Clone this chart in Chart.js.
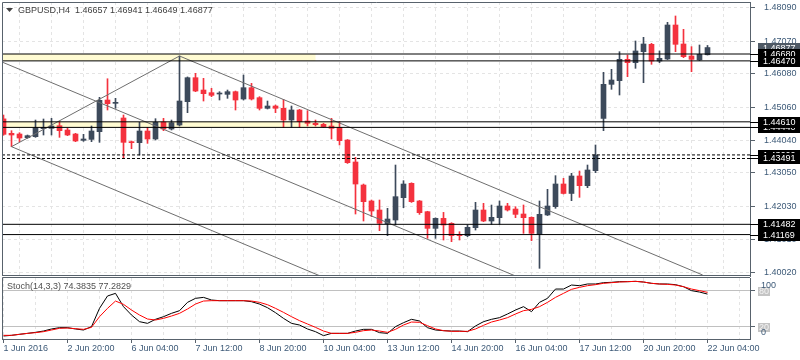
<!DOCTYPE html>
<html><head><meta charset="utf-8">
<script src="https://cdn.jsdelivr.net/npm/chart.js@4"></script>
<style>
html,body{margin:0;padding:0;background:#fff;}
#wrap{position:relative;width:800px;height:360px;overflow:hidden;}
#main{position:absolute;left:0;top:0;}
#stoch{position:absolute;left:0;top:277px;}
</style></head><body>
<div id="wrap"><canvas id="main" width="800" height="277"></canvas><canvas id="stoch" width="800" height="83"></canvas></div>
<script>
// ---------- DATA ----------
const candleOpen = [1.44700,1.44259,1.44238,1.44126,1.44157,1.44401,1.44411,1.44492,1.44360,1.44238,
1.44045,1.44075,1.44309,1.45276,1.45174,1.44727,1.44004,1.43974,1.44330,1.44086,
1.44604,1.44391,1.44513,1.45225,1.45957,1.45581,1.45500,1.45459,1.45449,1.45530,
1.45306,1.45652,1.45347,1.45022,1.45093,1.45022,1.44665,1.44971,1.44635,1.44564,
1.44533,1.44482,1.44442,1.44055,1.43384,1.42682,1.42194,1.41919,1.41502,1.41614,
1.42295,1.42733,1.42194,1.41868,1.41359,1.41664,1.41512,1.41176,1.41135,1.41379,
1.41919,1.41583,1.41685,1.42041,1.41949,1.41797,1.41695,1.41176,1.41767,1.42021,
1.42713,1.42424,1.42957,1.42662,1.43119,1.44714,1.45754,1.45866,1.46517,1.46415,
1.46751,1.46975,1.46466,1.46527,1.47565,1.46985,1.46619,1.46497,1.46657];
const candleHigh = [1.44818,1.44340,1.44279,1.44208,1.44665,1.44696,1.44716,1.44615,1.44411,1.44259,
1.44228,1.44482,1.45357,1.45925,1.45327,1.44818,1.44025,1.44594,1.44442,1.44706,
1.44716,1.44665,1.46619,1.45980,1.46090,1.45937,1.45632,1.45530,1.45581,1.45550,
1.46039,1.45784,1.45378,1.45245,1.45123,1.45296,1.45093,1.44990,1.44950,1.44665,
1.44564,1.44716,1.44615,1.44070,1.43526,1.42712,1.42224,1.42224,1.41970,1.43292,
1.42814,1.42750,1.42210,1.41880,1.41680,1.41847,1.41532,1.41257,1.41461,1.42153,
1.42122,1.42071,1.42194,1.42122,1.42020,1.42072,1.41710,1.42194,1.42550,1.42967,
1.42886,1.43038,1.43109,1.43292,1.43903,1.46121,1.46212,1.46751,1.46649,1.47077,
1.47189,1.47006,1.46772,1.47646,1.47840,1.47433,1.46904,1.46955,1.46941];
const candleLow = [1.44200,1.43852,1.44004,1.44106,1.44137,1.44208,1.44208,1.44137,1.44187,1.44004,
1.44014,1.44004,1.43984,1.44971,1.45022,1.43496,1.43791,1.43597,1.43953,1.44055,
1.44340,1.44360,1.44482,1.44889,1.45530,1.45245,1.45378,1.45276,1.45327,1.44971,
1.45276,1.45276,1.44971,1.45002,1.44889,1.44442,1.44442,1.44442,1.44482,1.44482,
1.44442,1.44086,1.43903,1.43340,1.41797,1.41583,1.41715,1.41288,1.41135,1.41461,
1.41990,1.42150,1.41786,1.41054,1.41054,1.41003,1.40952,1.41003,1.41105,1.41308,
1.41563,1.41481,1.41481,1.41888,1.41685,1.41207,1.40983,1.40139,1.41750,1.41970,
1.42407,1.42204,1.42306,1.42601,1.43058,1.44340,1.45602,1.45429,1.45988,1.46243,
1.45805,1.46365,1.46415,1.46510,1.46751,1.46568,1.46141,1.46476,1.46649];
const candleClose = [1.44228,1.44208,1.44116,1.44187,1.44432,1.44442,1.44482,1.44340,1.44208,1.44025,
1.44086,1.44330,1.45266,1.45164,1.45194,1.43984,1.43974,1.44330,1.44086,1.44594,
1.44391,1.44584,1.45245,1.45957,1.45550,1.45469,1.45418,1.45479,1.45530,1.45276,
1.45652,1.45306,1.45022,1.45093,1.45022,1.44665,1.44971,1.44615,1.44564,1.44523,
1.44462,1.44411,1.44035,1.43363,1.42712,1.42173,1.41888,1.41512,1.41644,1.42326,
1.42712,1.42173,1.41837,1.41359,1.41664,1.41461,1.41135,1.41135,1.41390,1.41919,
1.41583,1.41695,1.42041,1.41919,1.41786,1.41685,1.41207,1.41787,1.42041,1.42713,
1.42424,1.42957,1.42662,1.43140,1.43598,1.45754,1.45886,1.46517,1.46415,1.46772,
1.46985,1.46466,1.46548,1.47565,1.46975,1.46599,1.46517,1.46670,1.46877];
const stochK = [4.5,5.6,7.3,8.9,10.6,12.8,16.2,18.4,18.4,16.2,
14.5,20.1,50.6,71.2,75.6,53.4,39.5,28.4,25.6,32.3,
36.7,42.3,46.7,60.6,67.3,68.9,64.5,63.4,63.4,63.4,
63.4,61.7,57.8,51.7,43.4,33.9,25.6,22.8,16.2,11.7,
5.1,8.9,8.9,8.9,12.8,15.6,15.6,10.1,8.9,20.1,
26.7,32.3,29.5,18.4,14.5,13.4,12.8,12.8,11.7,21.2,
28.4,32.3,35.1,41.2,47.8,53.4,45.1,60.6,67.3,82.8,
82.8,89.5,88.4,91.2,91.2,93.4,94.0,95.1,95.1,95.6,
94.5,92.3,91.2,91.2,90.1,86.7,80.1,77.8,74.38];
const stochD = [5.6,5.6,7.3,8.9,10.1,11.7,14.5,17.3,17.8,16.7,
15.6,18.9,36.7,50.6,62.8,57.3,47.8,39.5,32.8,31.2,
33.9,37.8,42.3,49.5,57.8,62.8,63.4,63.4,63.4,63.4,
63.4,62.8,60.6,56.7,50.6,43.9,36.7,30.1,24.5,18.9,
12.8,8.9,8.9,8.9,10.6,13.4,14.5,12.8,10.6,15.6,
22.8,27.8,27.3,21.7,16.2,13.4,12.3,12.3,12.3,16.2,
22.3,27.8,31.2,35.1,41.2,46.7,48.9,53.4,60.6,68.9,
75.6,82.3,85.6,88.4,90.1,92.3,93.4,94.5,95.1,95.6,
94.5,92.3,91.2,90.6,89.5,86.7,82.8,80.1,77.28];
const timeLabels = ["1 Jun 2016","2 Jun 20:00","6 Jun 04:00","7 Jun 12:00","8 Jun 20:00","10 Jun 04:00",
"13 Jun 12:00","14 Jun 20:00","16 Jun 04:00","17 Jun 12:00","20 Jun 20:00","22 Jun 04:00"];
const timeLabelBars = [0,8,16,24,32,40,48,56,64,72,80,88];
const priceTicks = [1.48090,1.47070,1.46080,1.45060,1.44040,1.43050,1.42030,1.41010,1.40020];
const solidLevels = [1.46680,1.46470,1.44610,1.44440,1.41482,1.41169];
const dashedLevels = [1.43600,1.43491];
const zoneTop = [1.46680,1.44610];
const zoneBottom = [1.46470,1.44440];
const zoneEndBar = [39,41.9];
const trendLines = [
  [[-0.19,1.46436],[64,1.39905]],
  [[1,1.43852],[39.6,1.39905]],
  [[1,1.43852],[22,1.46619]],
  [[22,1.46619],[87.4,1.39935]]
];
const lastPrice = 1.46877;
const labelOrder = [1.46680,1.46470,1.44440,1.44610,1.43600,1.43491,1.41482,1.41169];
const titleText = "GBPUSD,H4  1.46657 1.46941 1.46649 1.46877";
const stochTitle = "Stoch(14,3,3) 74.3835 77.2829";
const stochLevels = [20,80];

// ---------- STYLE ----------
const X_MIN = -0.1875, X_MAX = 93.3125;
const Y_MIN = 1.39905, Y_MAX = 1.48267;
const FONT = "'Liberation Sans', Arial, sans-serif";
const AXIS_TXT = '#3d5a78';
const FRAME = '#58626c';
const GRID = '#e4e4e4';
const BULL = '#3d4a5b', BEAR = '#f4323e';
const gridBars = []; for (let b = 0; b <= 92; b += 4) gridBars.push(b);
const candleColors = candleOpen.map((o, i) => candleClose[i] >= o ? BULL : BEAR);

const datasets = [];
solidLevels.forEach(v => datasets.push({type:'line', data:[{x:X_MIN,y:v},{x:X_MAX,y:v}], borderColor:'#000', borderWidth:1, pointRadius:0, order:0}));
dashedLevels.forEach(v => datasets.push({type:'line', data:[{x:X_MIN,y:v},{x:X_MAX,y:v}], borderColor:'#000', borderWidth:1, borderDash:[3,2], pointRadius:0, order:0}));
trendLines.forEach(l => datasets.push({type:'line', data:l.map(p=>({x:p[0],y:p[1]})), borderColor:'#6e6e6e', borderWidth:1, pointRadius:0, order:0}));
datasets.push({type:'bar', data:candleOpen.map((o,i)=>({x:i,y:[o,candleClose[i]]})), backgroundColor:candleColors, barThickness:5, minBarLength:1, grouped:false, order:1});
datasets.push({type:'bar', data:candleLow.map((l,i)=>({x:i,y:[l,candleHigh[i]]})), backgroundColor:candleColors, barThickness:1, grouped:false, order:2});

const mainPlugin = {
  id:'mainDeco',
  beforeDatasetsDraw(chart){
    const {ctx, scales:{x,y}, chartArea:a} = chart;
    ctx.save();
    ctx.fillStyle = '#fffbd2';
    zoneTop.forEach((t,k)=>{
      const y1 = y.getPixelForValue(t), y2 = y.getPixelForValue(zoneBottom[k]);
      const x2 = x.getPixelForValue(zoneEndBar[k]);
      ctx.fillRect(a.left, y1, x2-a.left, y2-y1);
    });
    ctx.restore();
  },
  afterDraw(chart){
    const {ctx, scales:{y}, chartArea:a} = chart;
    ctx.save();
    ctx.strokeStyle = FRAME; ctx.lineWidth = 1;
    ctx.beginPath();
    ctx.moveTo(a.left+0.5, a.bottom); ctx.lineTo(a.left+0.5, a.top+0.5); ctx.lineTo(a.right, a.top+0.5);
    ctx.moveTo(a.left, a.bottom-0.5); ctx.lineTo(a.right, a.bottom-0.5);
    ctx.stroke();
    // title
    ctx.fillStyle = '#404040';
    ctx.beginPath(); ctx.moveTo(6,8); ctx.lineTo(13,8); ctx.lineTo(9.5,12); ctx.closePath(); ctx.fill();
    ctx.font = '9px ' + FONT; ctx.textBaseline = 'middle'; ctx.textAlign = 'left';
    ctx.fillText(titleText, 18, 10.5);
    // price labels for levels
    const box = (v, bg, line) => {
      const py = y.getPixelForValue(v);
      if (line) { ctx.strokeStyle = '#000'; ctx.beginPath(); ctx.moveTo(a.right, Math.round(py)+0.5); ctx.lineTo(758, Math.round(py)+0.5); ctx.stroke(); }
      ctx.fillStyle = bg; ctx.fillRect(758, Math.round(py)-5, 42, 11);
      ctx.fillStyle = '#fff'; ctx.fillText(v.toFixed(5), 763, Math.round(py)+0.5);
    };
    box(lastPrice,'#4e5965', false);
    labelOrder.forEach(v=>box(v,'#000', true));
    ctx.restore();
  }
};

new Chart(document.getElementById('main'), {
  type:'bar',
  data:{datasets},
  options:{
    responsive:false, animation:false, events:[],
    layout:{padding:{left:2, top:2, right:0, bottom:1}},
    plugins:{legend:{display:false}, tooltip:{enabled:false}},
    scales:{
      x:{type:'linear', min:X_MIN, max:X_MAX, offset:false,
        afterBuildTicks:s=>{s.ticks = gridBars.map(v=>({value:v}));},
        ticks:{display:false}, grid:{color:GRID, drawTicks:false}, border:{display:false, dash:[3,3]},
        afterFit:s=>{s.height=0; s.paddingLeft=0; s.paddingRight=0;}},
      y:{type:'linear', position:'right', min:Y_MIN, max:Y_MAX,
        afterBuildTicks:s=>{s.ticks = priceTicks.map(v=>({value:v}));},
        ticks:{autoSkip:false, padding:9, color:AXIS_TXT, font:{family:FONT, size:9}, callback:v=>Number(v).toFixed(5)},
        grid:{color:GRID, tickLength:5, tickColor:FRAME, tickBorderDash:[]},
        border:{display:true, color:FRAME, dash:[3,3]},
        afterFit:s=>{s.width=50; s.paddingTop=0; s.paddingBottom=0;}}
    }
  },
  plugins:[mainPlugin]
});

const stochPlugin = {
  id:'stochDeco',
  afterDraw(chart){
    const {ctx, scales:{y}, chartArea:a} = chart;
    ctx.save();
    ctx.strokeStyle = FRAME; ctx.lineWidth = 1;
    ctx.beginPath();
    ctx.moveTo(a.left+0.5, a.bottom); ctx.lineTo(a.left+0.5, a.top-0.5); ctx.lineTo(a.right, a.top-0.5);
    ctx.stroke();
    ctx.font = '9px ' + FONT; ctx.textBaseline = 'middle'; ctx.textAlign = 'left';
    ctx.fillStyle = '#505050';
    ctx.fillText(stochTitle, 7, 10);
    stochLevels.forEach(v=>{
      const py = Math.round(y.getPixelForValue(v));
      ctx.fillStyle = '#c4c4c4'; ctx.fillRect(758, py-4, 12, 9);
      ctx.fillStyle = '#f4f4f4'; ctx.fillText(String(v), 759, py+0.5);
    });
    ctx.fillStyle = AXIS_TXT;
    ctx.fillText('100', 761, a.top+7.5);
    ctx.fillText('0', 761, a.bottom-6.5);
    ctx.restore();
  }
};

new Chart(document.getElementById('stoch'), {
  type:'line',
  data:{datasets:[
    {data:stochD.map((v,i)=>({x:i,y:v})), borderColor:'#ff0000', borderWidth:1, pointRadius:0, order:0},
    {data:stochK.map((v,i)=>({x:i,y:v})), borderColor:'#000000', borderWidth:1, pointRadius:0, order:1}
  ]},
  options:{
    responsive:false, animation:false, events:[],
    layout:{padding:{left:2, top:1, right:0, bottom:0}},
    plugins:{legend:{display:false}, tooltip:{enabled:false}},
    scales:{
      x:{type:'linear', min:X_MIN, max:X_MAX, offset:false, position:'bottom',
        afterBuildTicks:s=>{s.ticks = gridBars.map(v=>({value:v}));},
        ticks:{autoSkip:false, maxRotation:0, minRotation:0, align:'start', padding:0, color:AXIS_TXT, font:{family:FONT, size:9},
          callback:(v)=>{const k = timeLabelBars.indexOf(v); return k>=0 ? timeLabels[k] : '';}},
        grid:{color:GRID, tickLength:4, tickBorderDash:[], tickColor:c=> (c.tick && timeLabelBars.includes(c.tick.value)) ? FRAME : 'rgba(0,0,0,0)'},
        border:{display:true, color:FRAME, dash:[3,3]},
        afterFit:s=>{s.height=21; s.paddingLeft=0; s.paddingRight=0;}},
      y:{type:'linear', position:'right', min:-0.5, max:101.2,
        afterBuildTicks:s=>{s.ticks = stochLevels.map(v=>({value:v}));},
        ticks:{display:false},
        grid:{color:'#c0c0c0', tickLength:5, tickColor:FRAME},
        border:{display:true, color:FRAME},
        afterFit:s=>{s.width=50; s.paddingTop=0; s.paddingBottom=0;}}
    }
  },
  plugins:[stochPlugin]
});
</script>
</body></html>
